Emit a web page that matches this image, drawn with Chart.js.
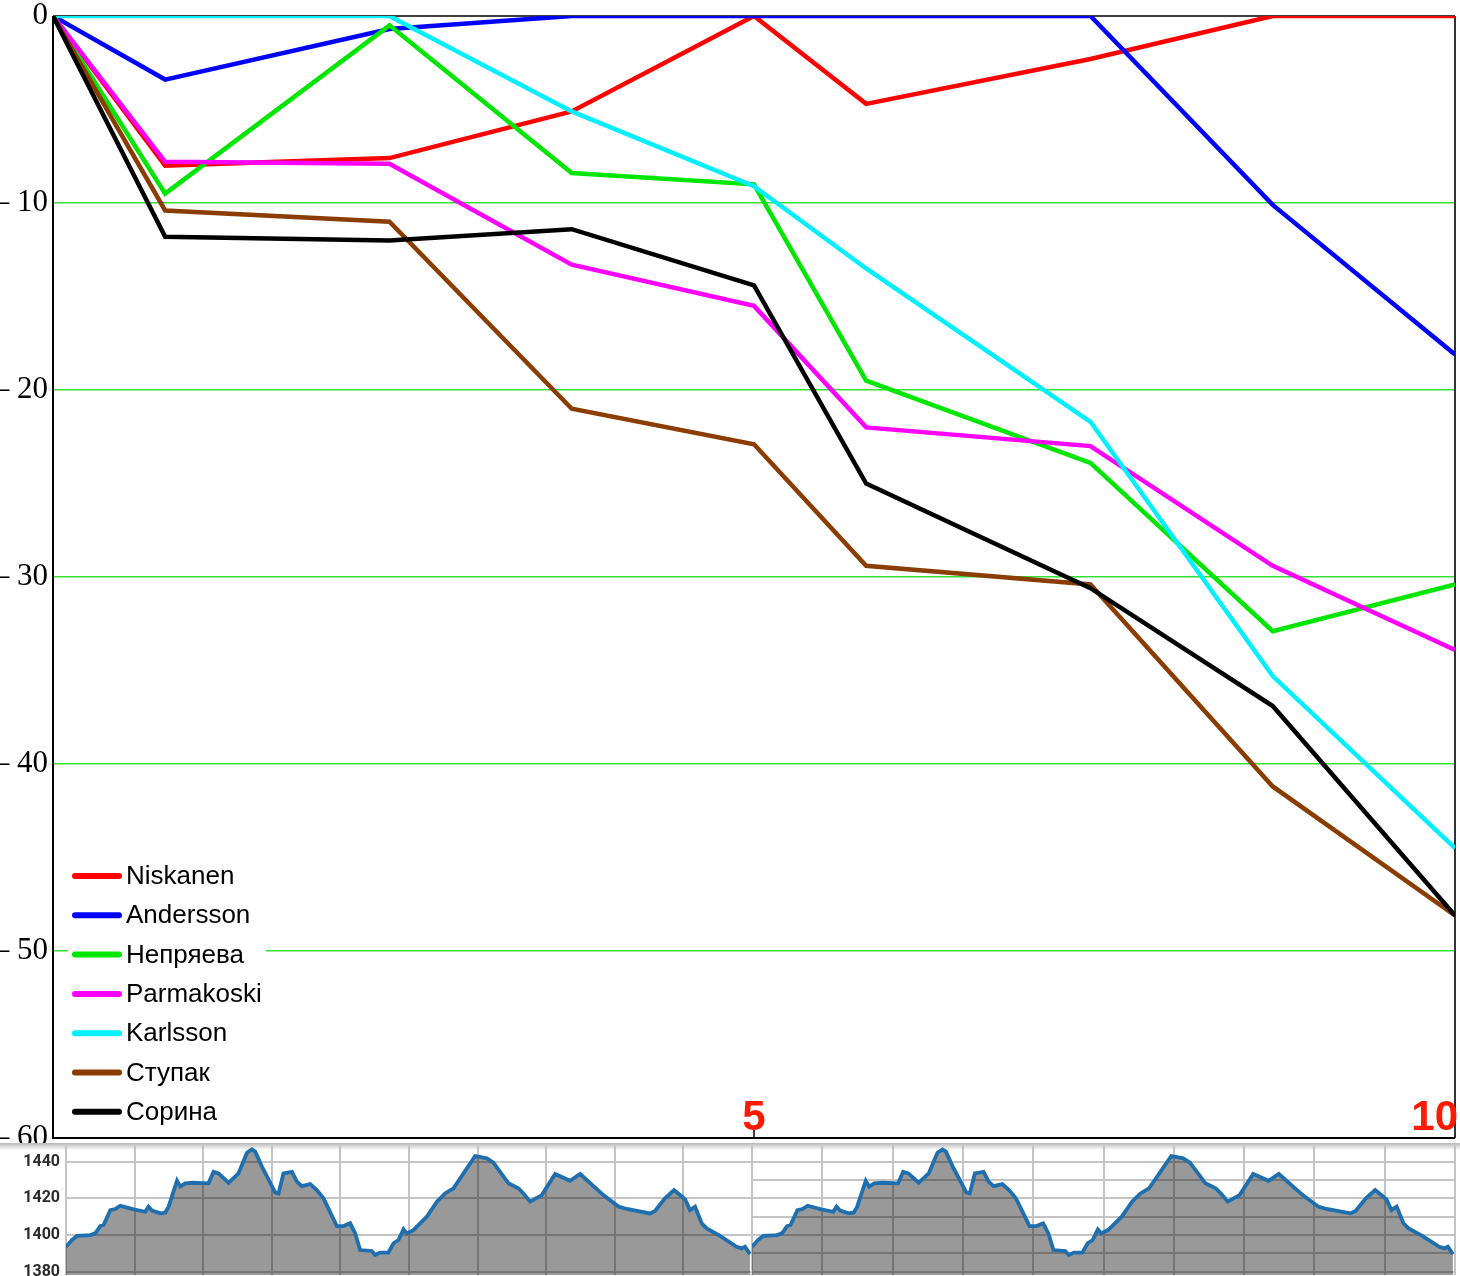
<!DOCTYPE html>
<html lang="ru">
<head>
<meta charset="UTF-8">
<title>Отставание от лидера</title>
<script src="https://cdn.jsdelivr.net/npm/chart.js"></script>
<style>
  body { margin: 0; background: #fff; }
  #wrap { position: relative; width: 1460px; height: 1276px; overflow: hidden; }
  canvas { position: absolute; }
</style>
</head>
<body>
<div id="wrap">
  <canvas id="gapChart" width="1460" height="1160" style="left:0;top:0"></canvas>
  <canvas id="profile1" width="752" height="133" style="left:0;top:1143px"></canvas>
  <canvas id="profile2" width="708" height="133" style="left:752px;top:1143px"></canvas>
</div>
<script>
// отсечки, км
const splitKm = [0, 0.8, 2.4, 3.7, 5, 5.8, 7.4, 8.7, 10];
const athletes = ['Niskanen', 'Andersson', 'Непряева', 'Parmakoski', 'Karlsson', 'Ступак', 'Сорина'];
const colors = ['#ff0000', '#0000ff', '#00e600', '#ff00ff', '#00f0ff', '#8b3c00', '#000000'];

// отставание от лидера на отсечке, сек
const niskanen   = [0, -8.0, -7.6, -5.1, 0, -4.7, -2.3, 0, 0];
const andersson  = [0, -3.4, -0.7, 0, 0, 0, 0, -10.1, -18.1];
const nepryaeva  = [0, -9.5, -0.5, -8.4, -9.0, -19.5, -23.9, -32.9, -30.4];
const parmakoski = [0, -7.8, -7.9, -13.3, -15.5, -22.0, -23.0, -29.4, -33.9];
const karlsson   = [0, 0, 0, -5.1, -9.1, -13.5, -21.7, -35.3, -44.5];
const stupak     = [0, -10.4, -11.0, -21.0, -22.9, -29.4, -30.4, -41.2, -48.1];
const sorina     = [0, -11.8, -12.0, -11.4, -14.4, -25.0, -30.6, -36.9, -48.1];
const gaps = [niskanen, andersson, nepryaeva, parmakoski, karlsson, stupak, sorina];

const kmLabels = [5, 10];

// профиль круга 5 км: расстояние (км) и высота (м)
const profileKm = [0.000, 0.044, 0.080, 0.177, 0.213, 0.250, 0.274, 0.323, 0.359, 0.396,
  0.493, 0.578, 0.602, 0.627, 0.687, 0.723, 0.748, 0.809, 0.833, 0.869,
  0.930, 1.039, 1.075, 1.112, 1.185, 1.257, 1.319, 1.355, 1.379, 1.428,
  1.525, 1.549, 1.585, 1.647, 1.683, 1.719, 1.780, 1.828, 1.877, 1.974,
  2.022, 2.071, 2.108, 2.144, 2.229, 2.253, 2.290, 2.350, 2.387, 2.423,
  2.460, 2.484, 2.532, 2.630, 2.703, 2.763, 2.824, 2.982, 3.067, 3.115,
  3.225, 3.297, 3.334, 3.383, 3.468, 3.565, 3.674, 3.747, 3.917, 4.026,
  4.087, 4.257, 4.293, 4.366, 4.432, 4.512, 4.548, 4.585, 4.633, 4.670,
  4.767, 4.888, 4.925, 4.949, 4.985];
const profileAlt = [1393.6, 1397.3, 1399.6, 1400.0, 1400.9, 1404.9, 1405.5, 1413.6, 1414.2, 1416.0,
  1414.0, 1412.7, 1415.5, 1413.3, 1411.8, 1412.2, 1415.5, 1429.6, 1426.4, 1428.2,
  1428.5, 1428.2, 1434.5, 1433.6, 1428.5, 1433.6, 1444.9, 1446.7, 1445.5, 1437.3,
  1423.1, 1422.7, 1433.6, 1434.5, 1429.1, 1426.7, 1427.8, 1424.5, 1420.0, 1404.9,
  1404.9, 1406.4, 1400.9, 1391.8, 1391.3, 1389.1, 1390.4, 1390.4, 1395.5, 1397.3,
  1403.1, 1400.9, 1402.7, 1410.0, 1418.2, 1422.7, 1425.5, 1443.1, 1441.8, 1439.5,
  1428.2, 1425.5, 1422.7, 1418.2, 1421.8, 1433.3, 1429.6, 1433.3, 1421.8, 1415.5,
  1414.2, 1411.8, 1413.1, 1420.0, 1424.5, 1419.5, 1413.6, 1415.5, 1406.4, 1403.6,
  1399.5, 1393.6, 1392.7, 1393.6, 1389.6];

// рамка вокруг области графика
const frame = {
  id: 'frame',
  beforeDatasetsDraw(chart) {
    const { ctx, chartArea: a } = chart;
    ctx.save();
    ctx.strokeStyle = '#000';
    ctx.lineWidth = 1.5;
    ctx.beginPath();
    ctx.moveTo(a.left, a.top); ctx.lineTo(a.right, a.top);
    ctx.stroke();
    ctx.strokeStyle = '#333';
    ctx.lineWidth = 2;
    ctx.beginPath();
    ctx.moveTo(a.right, a.top); ctx.lineTo(a.right, a.bottom);
    ctx.stroke();
    ctx.strokeStyle = '#000';
    ctx.beginPath();
    ctx.moveTo(a.left, a.top); ctx.lineTo(a.left, a.bottom); ctx.lineTo(a.right, a.bottom);
    ctx.stroke();
    ctx.restore();
  }
};

// легенда внутри графика, слева внизу
const boxLegend = {
  id: 'boxLegend',
  afterDatasetsDraw(chart) {
    const ctx = chart.ctx;
    ctx.save();
    ctx.fillStyle = '#fff';
    ctx.fillRect(68, 856, 198, 276);
    ctx.font = '26px "Liberation Sans", Arial, sans-serif';
    ctx.textBaseline = 'middle';
    chart.data.datasets.forEach((ds, i) => {
      const y = 876 + i * 39.3;
      ctx.strokeStyle = ds.borderColor;
      ctx.lineWidth = 6;
      ctx.lineCap = 'round';
      ctx.beginPath();
      ctx.moveTo(75, y); ctx.lineTo(119, y);
      ctx.stroke();
      ctx.fillStyle = '#000';
      ctx.fillText(ds.label, 126, y + 1);
    });
    ctx.restore();
  }
};

// красные подписи километров
const kmMarks = {
  id: 'kmMarks',
  afterDraw(chart) {
    const { ctx, scales: { x }, chartArea: a } = chart;
    ctx.save();
    ctx.fillStyle = '#ff1a00';
    ctx.font = 'bold 42px "Liberation Sans", Arial, sans-serif';
    ctx.textBaseline = 'alphabetic';
    kmLabels.forEach(km => {
      const px = x.getPixelForValue(km);
      const last = km === x.max;
      ctx.textAlign = last ? 'right' : 'center';
      ctx.fillText(String(km), last ? px + 3 : px, a.bottom - 8);
      if (!last) {
        ctx.strokeStyle = '#000';
        ctx.lineWidth = 1.5;
        ctx.beginPath();
        ctx.moveTo(px, a.bottom - 8); ctx.lineTo(px, a.bottom);
        ctx.stroke();
      }
    });
    ctx.restore();
  }
};

new Chart(document.getElementById('gapChart'), {
  type: 'line',
  data: {
    datasets: athletes.map((name, i) => ({
      label: name,
      data: splitKm.map((km, j) => ({ x: km, y: gaps[i][j] })),
      borderColor: colors[i],
      backgroundColor: colors[i],
      borderWidth: 4.5,
      pointRadius: 0,
      tension: 0,
      order: athletes.length - i
    }))
  },
  options: {
    responsive: false,
    animation: false,
    layout: { padding: { top: 16, right: 5, bottom: 22, left: 0 } },
    plugins: { legend: { display: false }, tooltip: { enabled: false } },
    scales: {
      x: { type: 'linear', min: 0, max: 10, display: false },
      y: {
        min: -60, max: 0,
        ticks: {
          stepSize: 10,
          padding: 5,
          color: '#000',
          font: { family: '"Liberation Serif", "Times New Roman", serif', size: 31 },
          callback: v => v === 0 ? '0' : '\u2013 ' + Math.abs(v)
        },
        grid: {
          drawTicks: false,
          lineWidth: 1.5,
          color: c => (c.tick.value === 0 || c.tick.value === -60) ? 'rgba(0,0,0,0)' : '#33e033'
        },
        border: { display: false },
        afterFit: s => { s.width = 53; s.paddingTop = 0; s.paddingBottom = 0; }
      }
    }
  },
  plugins: [frame, boxLegend, kmMarks]
});

// фон плитки профиля
const tileBg = {
  id: 'tileBg',
  beforeDraw(chart) {
    const { ctx, width, height } = chart;
    ctx.save();
    ctx.fillStyle = '#fff';
    ctx.fillRect(0, 0, width, height);
    const g = ctx.createLinearGradient(0, 0, 0, 7);
    g.addColorStop(0, 'rgba(0,0,0,0.28)');
    g.addColorStop(1, 'rgba(0,0,0,0)');
    ctx.fillStyle = g;
    ctx.fillRect(0, 0, width, 7);
    ctx.restore();
  }
};

function drawProfile(id, withLabels) {
  new Chart(document.getElementById(id), {
    type: 'line',
    data: {
      datasets: [{
        data: profileKm.map((k, i) => ({ x: k, y: profileAlt[i] })),
        borderColor: '#1f6fae',
        borderWidth: 3.8,
        backgroundColor: 'rgba(0,0,0,0.4)',
        fill: 'start',
        pointRadius: 0,
        tension: 0
      }]
    },
    options: {
      responsive: false,
      animation: false,
      layout: { padding: { top: 2, bottom: 1, right: withLabels ? 0 : 5, left: 0 } },
      plugins: { legend: { display: false }, tooltip: { enabled: false } },
      scales: {
        x: {
          type: 'linear', min: 0, max: 5,
          ticks: { display: false, stepSize: 0.5 },
          grid: { color: '#c4c4c4', lineWidth: 2, drawTicks: false },
          border: { display: false },
          afterFit: s => { s.height = 0; }
        },
        y: {
          min: 1378.2, max: 1449.1,
          ticks: {
            display: withLabels,
            stepSize: 10,
            includeBounds: false,
            padding: 6,
            color: '#2b2b2b',
            font: { family: 'Roboto, "DejaVu Sans", sans-serif', weight: 'bold', size: 16 },
            callback: v => v % 20 === 0 ? String(v) : ''
          },
          grid: { color: '#c4c4c4', lineWidth: 2, drawTicks: false },
          border: { display: false },
          afterFit: s => { s.width = withLabels ? 66 : 0; s.paddingTop = 0; s.paddingBottom = 0; }
        }
      }
    },
    plugins: [tileBg]
  });
}

drawProfile('profile1', true);
drawProfile('profile2', false);
</script>
</body>
</html>
